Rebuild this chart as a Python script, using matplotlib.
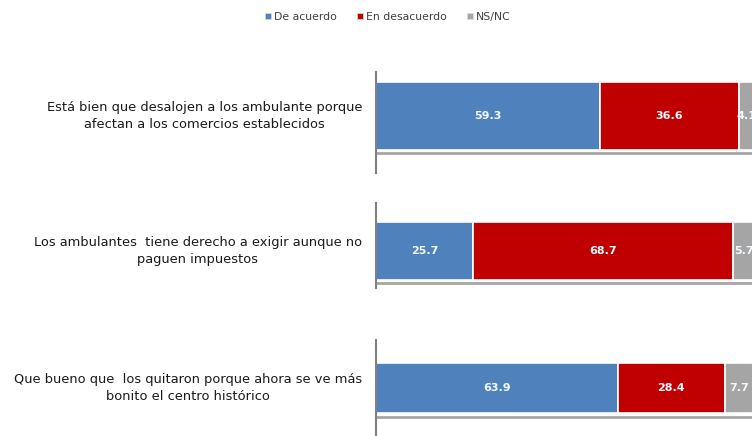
import matplotlib
matplotlib.use('Agg')
import matplotlib.pyplot as plt
from matplotlib.patches import Patch

# datos
preguntas = [
    'Está bien que desalojen a los ambulante porque\nafectan a los comercios establecidos',
    'Los ambulantes  tiene derecho a exigir aunque no\npaguen impuestos',
    'Que bueno que  los quitaron porque ahora se ve más\nbonito el centro histórico',
]
series = ['De acuerdo', 'En desacuerdo', 'NS/NC']
de_acuerdo = [59.3, 25.7, 63.9]
en_desacuerdo = [36.6, 68.7, 28.4]
ns_nc = [4.1, 5.7, 7.7]
colores = ['#4f81bd', '#c00000', '#a5a5a5']

W, H = 752, 436
fig = plt.figure(figsize=(W / 100, H / 100), dpi=100)

# layout of each panel in pixels: axis top, axis bottom, bar top, bar bottom, shadow line
paneles = [
    (72, 173, 82, 150, 153),
    (203, 288, 222, 280, 283),
    (340, 436, 363, 413, 417),
]
x0 = 376
ancho = 378

for i, (top, bot, btop, bbot, linea) in enumerate(paneles):
    ax = fig.add_axes([x0 / W, 1 - bot / H, ancho / W, (bot - top) / H])
    alto = bbot - btop
    centro = (btop + bbot) / 2
    ax.set_ylim(-(bot - centro) / alto, (centro - top) / alto)
    ax.set_xlim(0, 100)

    valores = [de_acuerdo[i], en_desacuerdo[i], ns_nc[i]]
    izq = 0
    for v, c in zip(valores, colores):
        ax.barh(0, v, left=izq, height=1, color=c, edgecolor='white', linewidth=1.2)
        ax.text(izq + v / 2, 0, f'{v:.1f}', ha='center', va='center',
                color='#f4f8ff', fontsize=8, fontweight='semibold')
        izq += v

    ax.axhline(-(linea - centro) / alto, color='#a6a6a6', lw=2, zorder=0)

    for s in ['top', 'right', 'bottom']:
        ax.spines[s].set_visible(False)
    ax.spines['left'].set_color('#808080')
    ax.spines['left'].set_linewidth(1.5)
    ax.set_xticks([])
    ax.set_yticks([])

    ax.text(-0.037, 0, preguntas[i], transform=ax.get_yaxis_transform(),
            ha='right', va='center', multialignment='center',
            fontsize=9.4, color='#1a1a1a', linespacing=1.4)

handles = [Patch(facecolor=c, edgecolor='#dddddd', linewidth=0.5) for c in colores]
fig.legend(handles, series, loc='center', bbox_to_anchor=(388 / W, 1 - 17 / H),
           ncol=3, frameon=False, fontsize=7.8, handlelength=0.5, handleheight=0.5,
           handletextpad=0.3, columnspacing=1.9, labelcolor='#404040')

fig.savefig('out.png', dpi=100)
